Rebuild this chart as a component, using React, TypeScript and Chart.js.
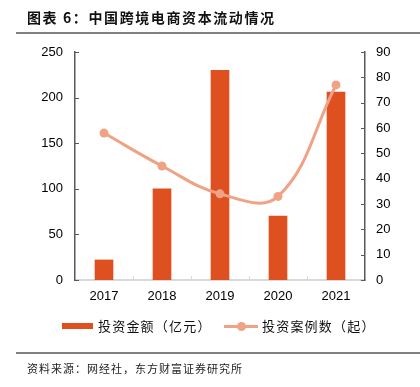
import React, { useEffect, useRef } from "react";
import { Chart, registerables } from "chart.js";

Chart.register(...registerables);

const years = ["2017", "2018", "2019", "2020", "2021"];
const investAmount = [22, 100, 230, 70, 206];
const investCases = [58, 45, 34, 33, 77];
const leftTicks = [0, 50, 100, 150, 200, 250];
const rightTicks = [0, 10, 20, 30, 40, 50, 60, 70, 80, 90];

const BAR_COLOR = "#DE5020";
const LINE_COLOR = "#F0A284";
const AXIS_DARK = "#595959";
const AXIS_LIGHT = "#D9D9D9";
const CJK = "'Noto Sans CJK SC', 'Noto Sans', sans-serif";
const LATIN = "'Liberation Sans', Arial, sans-serif";

const tickMarks = {
  id: "tickMarks",
  afterDraw(chart: any) {
    const ctx = chart.ctx;
    const area = chart.chartArea;
    const y = chart.scales.y;
    const y1 = chart.scales.y1;
    const x = chart.scales.x;
    ctx.save();
    ctx.lineWidth = 1;
    ctx.strokeStyle = AXIS_DARK;
    leftTicks.forEach((v) => {
      const py = Math.round(y.getPixelForValue(v)) + 0.5;
      ctx.beginPath();
      ctx.moveTo(area.left, py);
      ctx.lineTo(area.left + 4, py);
      ctx.stroke();
    });
    rightTicks.forEach((v) => {
      const py = Math.round(y1.getPixelForValue(v)) + 0.5;
      ctx.beginPath();
      ctx.moveTo(area.right - 4, py);
      ctx.lineTo(area.right, py);
      ctx.stroke();
    });
    ctx.strokeStyle = AXIS_LIGHT;
    for (let i = 1; i < years.length; i++) {
      const px = Math.round((x.getPixelForValue(i - 1) + x.getPixelForValue(i)) / 2) + 0.5;
      ctx.beginPath();
      ctx.moveTo(px, area.bottom);
      ctx.lineTo(px, area.bottom - 4);
      ctx.stroke();
    }
    ctx.restore();
  },
};

export default function App() {
  const ref = useRef<HTMLCanvasElement>(null);

  useEffect(() => {
    if (!ref.current) return;
    const chart = new Chart(ref.current, {
      type: "bar",
      data: {
        labels: years,
        datasets: [
          {
            type: "line",
            label: "投资案例数（起）",
            data: investCases,
            yAxisID: "y1",
            borderColor: LINE_COLOR,
            backgroundColor: LINE_COLOR,
            borderWidth: 3,
            tension: 0.4,
            pointRadius: 4.5,
            pointBackgroundColor: LINE_COLOR,
            pointBorderWidth: 0,
            order: 0,
          } as any,
          {
            type: "bar",
            label: "投资金额（亿元）",
            data: investAmount,
            yAxisID: "y",
            backgroundColor: BAR_COLOR,
            barThickness: 18,
            order: 1,
          },
        ],
      },
      options: {
        responsive: false,
        animation: false,
        layout: { padding: { top: 52, bottom: 77, left: 0, right: 0 } },
        plugins: { legend: { display: false }, tooltip: { enabled: false }, title: { display: false } },
        scales: {
          x: {
            grid: { display: false, drawTicks: false },
            border: { display: true, color: AXIS_LIGHT, width: 2 },
            ticks: { padding: 9, color: "#000", font: { family: LATIN, size: 13 } },
            afterFit: (s: any) => {
              s.height = 30;
            },
          },
          y: {
            position: "left",
            min: 0,
            max: 250,
            afterBuildTicks: (s: any) => {
              s.ticks = leftTicks.map((v) => ({ value: v }));
            },
            grid: { display: false, drawTicks: false },
            border: { display: true, color: AXIS_DARK, width: 1.5 },
            ticks: { padding: 12, color: "#000", font: { family: LATIN, size: 13 } },
            afterFit: (s: any) => {
              s.width = 75;
            },
          },
          y1: {
            position: "right",
            min: 0,
            max: 90,
            afterBuildTicks: (s: any) => {
              s.ticks = rightTicks.map((v) => ({ value: v }));
            },
            grid: { display: false, drawTicks: false },
            border: { display: true, color: AXIS_DARK, width: 1.5 },
            ticks: { padding: 11, color: "#000", font: { family: LATIN, size: 13 } },
            afterFit: (s: any) => {
              s.width = 55;
            },
          },
        },
      } as any,
      plugins: [tickMarks],
    });
    return () => chart.destroy();
  }, []);

  return (
    <div style={{ position: "fixed", left: 0, top: 0, width: 420, height: 387, background: "#fff", overflow: "hidden" }}>
      <canvas ref={ref} width={420} height={387} style={{ position: "absolute", left: 0, top: 0 }} />
      <div
        style={{
          position: "absolute",
          left: 27,
          top: 7,
          fontFamily: CJK,
          fontWeight: 700,
          fontSize: 14,
          letterSpacing: 1.6,
          lineHeight: "20px",
          color: "#111",
          whiteSpace: "nowrap",
        }}
      >
        图表 6：中国跨境电商资本流动情况
      </div>
      <div style={{ position: "absolute", left: 16, top: 32, width: 404, height: 2, background: "#808080" }} />
      <div style={{ position: "absolute", left: 62, top: 323, width: 31, height: 6, background: BAR_COLOR }} />
      <div
        style={{
          position: "absolute",
          left: 98,
          top: 317,
          fontFamily: CJK,
          fontSize: 13,
          letterSpacing: 1.2,
          lineHeight: "18px",
          color: "#111",
          whiteSpace: "nowrap",
        }}
      >
        投资金额（亿元）
      </div>
      <div style={{ position: "absolute", left: 224, top: 324.5, width: 34, height: 3, background: LINE_COLOR }} />
      <div
        style={{
          position: "absolute",
          left: 236.5,
          top: 321.5,
          width: 9,
          height: 9,
          borderRadius: "50%",
          background: LINE_COLOR,
        }}
      />
      <div
        style={{
          position: "absolute",
          left: 262,
          top: 317,
          fontFamily: CJK,
          fontSize: 13,
          letterSpacing: 1.2,
          lineHeight: "18px",
          color: "#111",
          whiteSpace: "nowrap",
        }}
      >
        投资案例数（起）
      </div>
      <div style={{ position: "absolute", left: 16, top: 352, width: 404, height: 1.5, background: "#808080" }} />
      <div
        style={{
          position: "absolute",
          left: 27,
          top: 360,
          fontFamily: CJK,
          fontSize: 11,
          letterSpacing: 1,
          lineHeight: "16px",
          color: "#222",
          whiteSpace: "nowrap",
        }}
      >
        资料来源：网经社，东方财富证券研究所
      </div>
    </div>
  );
}
